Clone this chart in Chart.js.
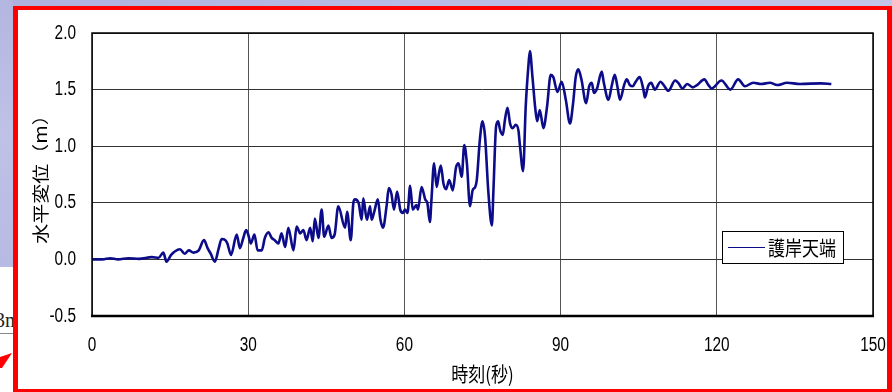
<!DOCTYPE html>
<html>
<head>
<meta charset="utf-8">
<script src="https://cdn.jsdelivr.net/npm/chart.js@4/dist/chart.umd.min.js"></script>
<style>
  html, body { margin: 0; padding: 0; }
  body {
    width: 892px; height: 392px; position: relative; overflow: hidden;
    background: linear-gradient(90deg, #aeb1dd 0%, #b6b9e2 40%, #c3c5e8 100%);
  }
  #side {
    position: absolute; left: 0; top: 0; width: 13px; height: 267px;
    background: linear-gradient(180deg, #b3b6e0 0%, #bfc1e6 50%, #b7bae2 100%);
  }
  #lower { position: absolute; left: 0; top: 267px; width: 13px; height: 125px; background: #fff; }
  #note {
    position: absolute; left: -5px; top: 309px; font: 20px 'Liberation Serif', serif; color: #222;
    width: 18px; overflow: hidden; white-space: nowrap;
  }
  #rule { position: absolute; left: 0; top: 333px; width: 13px; height: 1px; background: #888; }
  #arrow {
    position: absolute; left: 0; top: 353px; width: 13px; height: 15px; background: #f00;
    clip-path: polygon(0 4px, 12px 0, 2px 15px, 0 15px);
  }
  #frame {
    position: absolute; left: 13px; top: 6px; width: 869px; height: 379px;
    border: 5px solid #ff0000; border-top-width: 4px; border-bottom-width: 3px;
    background: #fff;
  }
  #chart { position: absolute; left: 0; top: 0; }
</style>
</head>
<body>
<div id="side"></div>
<div id="lower"></div>
<div id="note">3m</div>
<div id="rule"></div>
<div id="arrow"></div>
<div id="frame"></div>
<canvas id="chart" width="892" height="392"></canvas>
<script>
// Horizontal displacement of the revetment crest over time
const timeSec = [
  0, 2, 3.5, 5, 7, 9, 11.5, 12.8, 13.7, 14.3, 15.2, 15.9, 16.9, 17.8, 18.6, 19.5, 20.5,
  21.5, 22.2, 22.8, 23.6, 24.3, 24.9, 25.6, 26.0, 26.7, 27.8, 28.4, 29.0, 29.6, 30.0,
  30.5, 31.2, 31.8, 32.6, 33.2, 33.9, 34.5, 35.1, 35.8, 36.4, 37.1, 37.7, 38.7, 39.3,
  40.0, 40.6, 41.2, 41.9, 42.4, 42.8, 43.5, 44.1, 44.6, 45.4, 46.0, 46.6, 47.3, 48.6,
  49.0, 49.7, 50.2, 50.5, 51.2, 51.8, 52.1, 52.8, 53.4, 53.7, 54.2, 54.9, 55.4, 55.9,
  56.6, 57.0, 57.5, 58.0, 58.6, 59.2, 59.7, 60.1, 60.6, 61.1, 61.6, 62.3, 62.6, 63.3,
  64.0, 64.4, 64.9, 65.2, 65.7, 66.2, 66.6, 67.0, 67.5, 68.0, 68.6, 69.3, 69.9, 70.4,
  71.0, 71.5, 72.0, 72.6, 73.1, 73.6, 73.9, 74.5, 75.0, 75.5, 76.1, 76.8, 77.1, 77.6,
  78.0, 78.4, 78.9, 79.3, 79.8, 80.3, 80.8, 81.4, 81.9, 82.2, 82.8, 83.3, 83.8, 84.1,
  84.6, 85.1, 85.5, 86.0, 86.7, 87.4, 88.1, 88.6, 89.4, 90.2, 91.0, 91.8, 92.4, 92.9,
  93.4, 94.0, 94.9, 95.5, 96.0, 96.4, 97.0, 97.9, 98.3, 99.2, 99.8, 100.4, 100.9, 101.4,
  102.2, 102.7, 103.3, 103.9, 104.3, 105.2, 105.9, 106.2, 106.8, 107.4, 108.1, 109.2,
  109.8, 110.7, 112.0, 112.6, 113.4, 114.3, 115.4, 116.2, 117.6, 118.4, 119.0, 120.9,
  122.6, 124.1, 125.4, 127.0, 128.5, 130.2, 131.6, 133.5, 136.0, 140.0, 142.0
];
const crestDisp = [
  0, 0, 0.01, 0, 0.01, 0.005, 0.02, 0.015, 0.06, -0.02, 0.04, 0.07, 0.09, 0.05, 0.08, 0.06, 0.08,
  0.17, 0.10, 0.05, -0.02, 0.09, 0.18, 0.17, 0.14, 0.04, 0.22, 0.10, 0.18, 0.26, 0.22,
  0.14, 0.22, 0.08, 0.08, 0.19, 0.24, 0.19, 0.17, 0.14, 0.23, 0.11, 0.28, 0.08, 0.29,
  0.23, 0.26, 0.17, 0.28, 0.16, 0.36, 0.19, 0.44, 0.20, 0.30, 0.19, 0.22, 0.47, 0.28,
  0.42, 0.17, 0.50, 0.53, 0.50, 0.35, 0.54, 0.35, 0.47, 0.35, 0.42, 0.53, 0.35, 0.28,
  0.48, 0.63, 0.58, 0.44, 0.60, 0.44, 0.41, 0.44, 0.41, 0.65, 0.44, 0.48, 0.44, 0.64,
  0.53, 0.50, 0.33, 0.53, 0.85, 0.64, 0.75, 0.83, 0.67, 0.62, 0.70, 0.61, 0.81, 0.85,
  0.73, 1.01, 0.85, 0.47, 0.61, 0.64, 0.70, 1.06, 1.22, 1.08, 0.61, 0.30, 0.61, 1.17,
  1.22, 1.14, 1.10, 1.23, 1.34, 1.20, 1.16, 1.19, 1.14, 1.00, 0.78, 1.35, 1.70, 1.84,
  1.61, 1.35, 1.22, 1.32, 1.16, 1.35, 1.63, 1.61, 1.48, 1.57, 1.41, 1.20, 1.38, 1.61,
  1.68, 1.59, 1.38, 1.53, 1.56, 1.47, 1.51, 1.66, 1.56, 1.41, 1.53, 1.63, 1.53, 1.41,
  1.54, 1.59, 1.54, 1.53, 1.56, 1.61, 1.50, 1.43, 1.53, 1.56, 1.50, 1.57,
  1.54, 1.49, 1.58, 1.56, 1.51, 1.55, 1.52, 1.54, 1.59, 1.54, 1.51, 1.58,
  1.50, 1.59, 1.53, 1.56, 1.55, 1.56, 1.54, 1.56, 1.55, 1.555, 1.55
];
const seriesName = '護岸天端';
const xTitle = '時刻(秒)';
const yTitle = '水平変位（m）';
const xTicks = [0, 30, 60, 90, 120, 150];
const yTicks = [-0.5, 0.0, 0.5, 1.0, 1.5, 2.0];

const lineColor = '#0c0c8a';
const numFont = "'Liberation Sans', Arial, sans-serif";
const cjkFont = "'Noto Sans CJK JP', 'Noto Sans', sans-serif";

// Draw all chart text horizontally condensed (screen x only), anchored at its draw point
const narrowText = {
  id: 'narrowText',
  beforeInit(chart) {
    const ctx = chart.ctx;
    const base = ctx.fillText;
    ctx.fillText = function (text, x, y, maxWidth) {
      const k = /CJK/.test(this.font) ? 0.85 : 0.77;
      const m = this.getTransform();
      const p = m.transformPoint(new DOMPoint(x, y));
      this.save();
      this.setTransform(new DOMMatrix().translate(p.x, p.y).scale(k, 1).translate(-p.x, -p.y).multiply(m));
      if (maxWidth === undefined) base.call(this, text, x, y);
      else base.call(this, text, x, y, maxWidth);
      this.restore();
    };
  }
};

// Plot-area frame drawn over the grid
const plotFrame = {
  id: 'plotFrame',
  afterDatasetsDraw(chart) {
    const { ctx, chartArea: a } = chart;
    ctx.save();
    ctx.strokeStyle = '#000';
    ctx.lineWidth = 1.5;
    ctx.strokeRect(a.left, a.top, a.right - a.left, a.bottom - a.top);
    ctx.lineWidth = 2.5;
    ctx.beginPath();
    ctx.moveTo(a.left - 1, a.bottom);
    ctx.lineTo(a.right + 1, a.bottom);
    ctx.stroke();
    ctx.restore();
  }
};

// Boxed legend inside the lower right of the plot area
const boxLegend = {
  id: 'boxLegend',
  afterDraw(chart) {
    const { ctx, chartArea: a } = chart;
    const ds = chart.data.datasets[0];
    const w = 121, h = 32;
    const x = a.right - 30 - w, y = a.bottom - 53 - h;
    ctx.save();
    ctx.fillStyle = '#fff';
    ctx.fillRect(x, y, w, h);
    ctx.strokeStyle = '#000';
    ctx.lineWidth = 1;
    ctx.strokeRect(x + 0.5, y + 0.5, w, h);
    ctx.strokeStyle = ds.borderColor;
    ctx.lineWidth = 1.2;
    ctx.beginPath();
    ctx.moveTo(x + 6, y + h / 2 + 0.5);
    ctx.lineTo(x + 43, y + h / 2 + 0.5);
    ctx.stroke();
    ctx.fillStyle = '#000';
    ctx.font = '20px ' + cjkFont;
    ctx.textBaseline = 'middle';
    ctx.fillText(ds.label, x + 46, y + h / 2 + 1);
    ctx.restore();
  }
};

new Chart(document.getElementById('chart'), {
  type: 'line',
  data: {
    datasets: [{
      label: seriesName,
      data: timeSec.map((t, i) => ({ x: t, y: crestDisp[i] })),
      borderColor: lineColor,
      borderWidth: 2.6,
      pointRadius: 0,
      fill: false,
      cubicInterpolationMode: 'monotone'
    }]
  },
  options: {
    responsive: false,
    animation: false,
    devicePixelRatio: 1,
    layout: { padding: { left: 25, right: 19, top: 33, bottom: 0 } },
    plugins: { legend: { display: false }, tooltip: { enabled: false } },
    scales: {
      x: {
        type: 'linear',
        min: xTicks[0], max: xTicks[xTicks.length - 1],
        afterBuildTicks: s => { s.ticks = xTicks.map(v => ({ value: v })); },
        afterFit: s => { s.height = 76; s.paddingLeft = 0; s.paddingRight = 0; },
        grid: { color: '#555', lineWidth: 1, drawTicks: false },
        border: { display: false },
        ticks: { color: '#000', padding: 17, maxRotation: 0, font: { family: numFont, size: 20 } },
        title: { display: true, text: xTitle, color: '#000', padding: { top: 0, bottom: 6 },
                 font: { family: cjkFont, size: 20 } }
      },
      y: {
        min: yTicks[0], max: yTicks[yTicks.length - 1],
        afterBuildTicks: s => { s.ticks = yTicks.map(v => ({ value: v })); },
        afterFit: s => { s.width = 67; s.paddingTop = 0; s.paddingBottom = 0; },
        grid: { color: '#333', lineWidth: 1, drawTicks: false },
        border: { display: false },
        ticks: { color: '#000', padding: 16, font: { family: numFont, size: 20 },
                 callback: v => Number(v).toFixed(1) },
        title: { display: true, text: yTitle, color: '#000', padding: { top: 4, bottom: 0 },
                 font: { family: cjkFont, size: 20 } }
      }
    }
  },
  plugins: [narrowText, plotFrame, boxLegend]
});
</script>
</body>
</html>
